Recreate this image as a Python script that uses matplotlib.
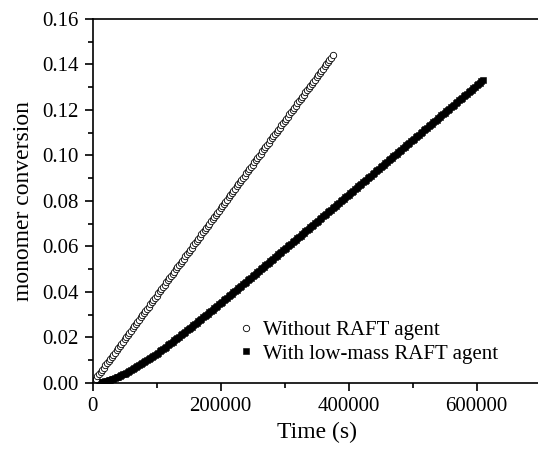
import numpy as np
import matplotlib
matplotlib.use("Agg")
import matplotlib.pyplot as plt
from matplotlib.ticker import MultipleLocator, FixedLocator

# sampling interval of both runs (s)
time_step = 2500

# monomer conversion
without_raft = [
    0.0000, 0.0010, 0.0019, 0.0029, 0.0038, 0.0048, 0.0058, 0.0067, 0.0077, 0.0086,
    0.0096, 0.0106, 0.0115, 0.0125, 0.0134, 0.0144, 0.0154, 0.0163, 0.0173, 0.0182,
    0.0192, 0.0202, 0.0211, 0.0221, 0.0230, 0.0240, 0.0250, 0.0259, 0.0269, 0.0278,
    0.0288, 0.0298, 0.0307, 0.0317, 0.0326, 0.0336, 0.0346, 0.0355, 0.0365, 0.0374,
    0.0384, 0.0394, 0.0403, 0.0413, 0.0422, 0.0432, 0.0442, 0.0451, 0.0461, 0.0470,
    0.0480, 0.0490, 0.0499, 0.0509, 0.0518, 0.0528, 0.0538, 0.0547, 0.0557, 0.0566,
    0.0576, 0.0586, 0.0595, 0.0605, 0.0614, 0.0624, 0.0634, 0.0643, 0.0653, 0.0662,
    0.0672, 0.0682, 0.0691, 0.0701, 0.0710, 0.0720, 0.0730, 0.0739, 0.0749, 0.0758,
    0.0768, 0.0778, 0.0787, 0.0797, 0.0806, 0.0816, 0.0826, 0.0835, 0.0845, 0.0854,
    0.0864, 0.0874, 0.0883, 0.0893, 0.0902, 0.0912, 0.0922, 0.0931, 0.0941, 0.0950,
    0.0960, 0.0970, 0.0979, 0.0989, 0.0998, 0.1008, 0.1018, 0.1027, 0.1037, 0.1046,
    0.1056, 0.1066, 0.1075, 0.1085, 0.1094, 0.1104, 0.1114, 0.1123, 0.1133, 0.1142,
    0.1152, 0.1162, 0.1171, 0.1181, 0.1190, 0.1200, 0.1210, 0.1219, 0.1229, 0.1238,
    0.1248, 0.1258, 0.1267, 0.1277, 0.1286, 0.1296, 0.1306, 0.1315, 0.1325, 0.1334,
    0.1344, 0.1354, 0.1363, 0.1373, 0.1382, 0.1392, 0.1402, 0.1411, 0.1421, 0.1430,
    0.1440,
]

with_raft = [
    0.0000, 0.0000, 0.0001, 0.0001, 0.0002, 0.0003, 0.0004, 0.0006, 0.0008, 0.0010,
    0.0012, 0.0014, 0.0017, 0.0019, 0.0022, 0.0025, 0.0028, 0.0031, 0.0034, 0.0038,
    0.0041, 0.0045, 0.0049, 0.0052, 0.0056, 0.0060, 0.0064, 0.0069, 0.0073, 0.0077,
    0.0082, 0.0086, 0.0091, 0.0095, 0.0100, 0.0105, 0.0110, 0.0115, 0.0119, 0.0124,
    0.0129, 0.0134, 0.0140, 0.0145, 0.0150, 0.0155, 0.0160, 0.0166, 0.0171, 0.0176,
    0.0182, 0.0187, 0.0192, 0.0198, 0.0203, 0.0209, 0.0214, 0.0220, 0.0225, 0.0231,
    0.0237, 0.0242, 0.0248, 0.0254, 0.0259, 0.0265, 0.0271, 0.0276, 0.0282, 0.0288,
    0.0293, 0.0299, 0.0305, 0.0311, 0.0317, 0.0322, 0.0328, 0.0334, 0.0340, 0.0346,
    0.0351, 0.0357, 0.0363, 0.0369, 0.0375, 0.0381, 0.0387, 0.0393, 0.0398, 0.0404,
    0.0410, 0.0416, 0.0422, 0.0428, 0.0434, 0.0440, 0.0446, 0.0452, 0.0458, 0.0463,
    0.0469, 0.0475, 0.0481, 0.0487, 0.0493, 0.0499, 0.0505, 0.0511, 0.0517, 0.0523,
    0.0529, 0.0535, 0.0541, 0.0547, 0.0553, 0.0559, 0.0565, 0.0571, 0.0577, 0.0583,
    0.0589, 0.0595, 0.0601, 0.0606, 0.0612, 0.0618, 0.0624, 0.0630, 0.0636, 0.0642,
    0.0648, 0.0654, 0.0660, 0.0666, 0.0672, 0.0678, 0.0684, 0.0690, 0.0696, 0.0702,
    0.0708, 0.0714, 0.0720, 0.0726, 0.0732, 0.0738, 0.0744, 0.0750, 0.0756, 0.0762,
    0.0768, 0.0774, 0.0780, 0.0786, 0.0792, 0.0798, 0.0804, 0.0810, 0.0816, 0.0822,
    0.0828, 0.0834, 0.0840, 0.0846, 0.0852, 0.0858, 0.0864, 0.0870, 0.0876, 0.0882,
    0.0888, 0.0894, 0.0900, 0.0906, 0.0912, 0.0918, 0.0924, 0.0930, 0.0936, 0.0942,
    0.0948, 0.0954, 0.0960, 0.0966, 0.0972, 0.0978, 0.0984, 0.0990, 0.0996, 0.1002,
    0.1008, 0.1014, 0.1020, 0.1026, 0.1032, 0.1038, 0.1044, 0.1050, 0.1056, 0.1062,
    0.1068, 0.1074, 0.1080, 0.1086, 0.1092, 0.1098, 0.1104, 0.1110, 0.1116, 0.1122,
    0.1128, 0.1134, 0.1140, 0.1146, 0.1152, 0.1158, 0.1164, 0.1170, 0.1176, 0.1182,
    0.1188, 0.1194, 0.1200, 0.1206, 0.1212, 0.1218, 0.1224, 0.1230, 0.1236, 0.1242,
    0.1248, 0.1254, 0.1260, 0.1266, 0.1272, 0.1278, 0.1284, 0.1290, 0.1296, 0.1302,
    0.1308, 0.1314, 0.1320, 0.1326, 0.1332,
]

x_ticks = [0, 200000, 400000, 600000]
y_ticks = [0.00, 0.02, 0.04, 0.06, 0.08, 0.10, 0.12, 0.14, 0.16]

plt.rcParams['font.family'] = ['Liberation Serif', 'DejaVu Serif']

t1 = np.arange(len(without_raft)) * time_step
t2 = np.arange(len(with_raft)) * time_step

fig = plt.figure(figsize=(5.38, 4.49), dpi=100)
ax = fig.add_axes([0.1723, 0.147, 0.8327, 0.8107])

ax.plot(t2, with_raft, linestyle='none', marker='s', markersize=4.4,
        color='black', markeredgewidth=0.4, label='With low-mass RAFT agent')
ax.plot(t1, without_raft, linestyle='none', marker='o', markersize=4.6,
        markerfacecolor='white', markeredgecolor='black', markeredgewidth=0.6,
        label='Without RAFT agent')

ax.set_xlim(0, 700000)
ax.set_ylim(0, 0.16)
ax.xaxis.set_major_locator(FixedLocator(x_ticks))
ax.xaxis.set_minor_locator(MultipleLocator(100000))
ax.yaxis.set_major_locator(FixedLocator(y_ticks))
ax.yaxis.set_minor_locator(MultipleLocator(0.01))
ax.set_xticklabels([str(v) for v in x_ticks])
ax.set_yticklabels([f'{v:.2f}' for v in y_ticks])

ax.tick_params(which='major', direction='out', length=6, width=1.2, labelsize=15, pad=4)
ax.tick_params(which='minor', direction='out', length=3.5, width=1.2)
ax.tick_params(top=False, right=False)
for side in ['left', 'bottom', 'top', 'right']:
    ax.spines[side].set_linewidth(1.2)

ax.set_xlabel('Time (s)', fontsize=17, labelpad=4)
ax.set_ylabel('monomer conversion', fontsize=17, labelpad=6)

handles, labels = ax.get_legend_handles_labels()
ax.legend(handles[::-1], labels[::-1], loc='lower left', bbox_to_anchor=(0.31, 0.03),
          frameon=False, fontsize=15, handlelength=0.6, handletextpad=0.5,
          labelspacing=0.2, markerscale=1.0, borderaxespad=0)

fig.savefig('out.png', dpi=100)
